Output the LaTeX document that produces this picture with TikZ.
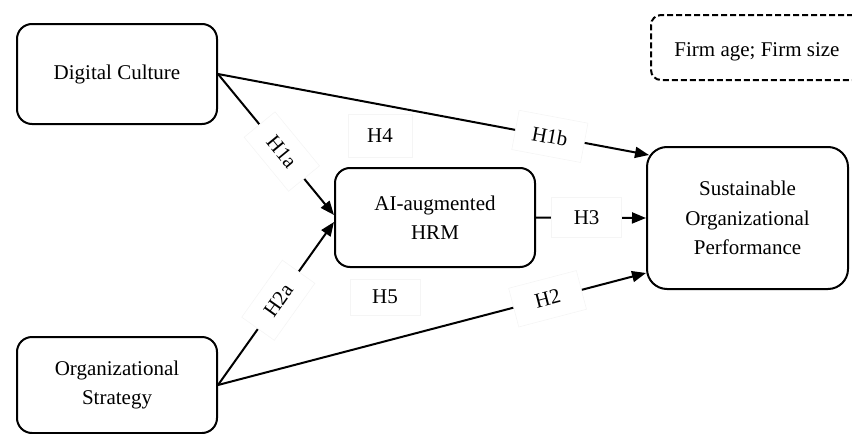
\documentclass[tikz,border=0pt]{standalone}
\usepackage{fontspec}
\setmainfont{Liberation Serif}
\usetikzlibrary{arrows.meta}
\tikzset{
  construct/.style={draw, line width=2pt, rounded corners=15pt, align=center,
    inner sep=0pt, font=\fontsize{21}{29.5}\selectfont},
  path/.style={line width=2pt},
  arrowpath/.style={path, -{Triangle[length=14pt,width=11pt]}},
  hyp/.style={fill=white, draw=black!4, line width=0.6pt, inner sep=0pt, minimum width=70pt,
    minimum height=40pt, font=\fontsize{21}{22}\selectfont},
}
\begin{document}
\begin{tikzpicture}[x=1pt, y=-1pt]
  \useasboundingbox (0,0) rectangle (852,434);
  \clip (0,0) rectangle (852,434);

  % constructs
  \node[construct, minimum width=200pt, minimum height=100pt] (dc) at (117,74) {Digital Culture};
  \node[construct, minimum width=200pt, minimum height=96pt] (os) at (117,385) {Organizational\\Strategy};
  \node[construct, minimum width=200pt, minimum height=99pt] (ai) at (435,217.5) {AI-augmented\\HRM};
  \node[construct, rounded corners=20pt, minimum width=201pt, minimum height=142pt] (sop) at (747.5,218)
    {Sustainable\\Organizational\\Performance};

  % control variables
  \node[draw, dash pattern=on 6pt off 3pt, line width=2pt, rounded corners=10pt,
    minimum width=230pt, minimum height=65pt, anchor=west, inner sep=0pt] (ctrl) at (650,47.5) {};
  \node[font=\fontsize{21}{24}\selectfont] (ctrltext) at (757,52) {Firm age; Firm size};

  % hypothesised paths
  \draw[arrowpath] (dc.east) -- ([xshift=3pt,yshift=63pt]sop.west)
    node[hyp, sloped, pos=0.77] (h1b) {H1b};
  \draw[arrowpath] (dc.east) -- ([yshift=2.5pt]ai.west)
    node[hyp, sloped, pos=0.55] (h1a) {H1a};
  \draw[arrowpath] (os.east) -- ([yshift=-4.5pt]ai.west)
    node[hyp, sloped, pos=0.52] (h2a) {H2a};
  \draw[arrowpath] (os.east) -- ([yshift=-55pt]sop.west)
    node[hyp, sloped, pos=0.77] (h2) {H2};
  \draw[arrowpath] (ai.east) -- (sop.west)
    node[hyp, pos=0.46] (h3) {H3};

  % mediation labels
  \node[hyp, minimum width=64pt, minimum height=43pt] (h4) at (380,136) {H4};
  \node[hyp, minimum width=70pt, minimum height=36pt] (h5) at (385,297) {H5};
\end{tikzpicture}
\end{document}
